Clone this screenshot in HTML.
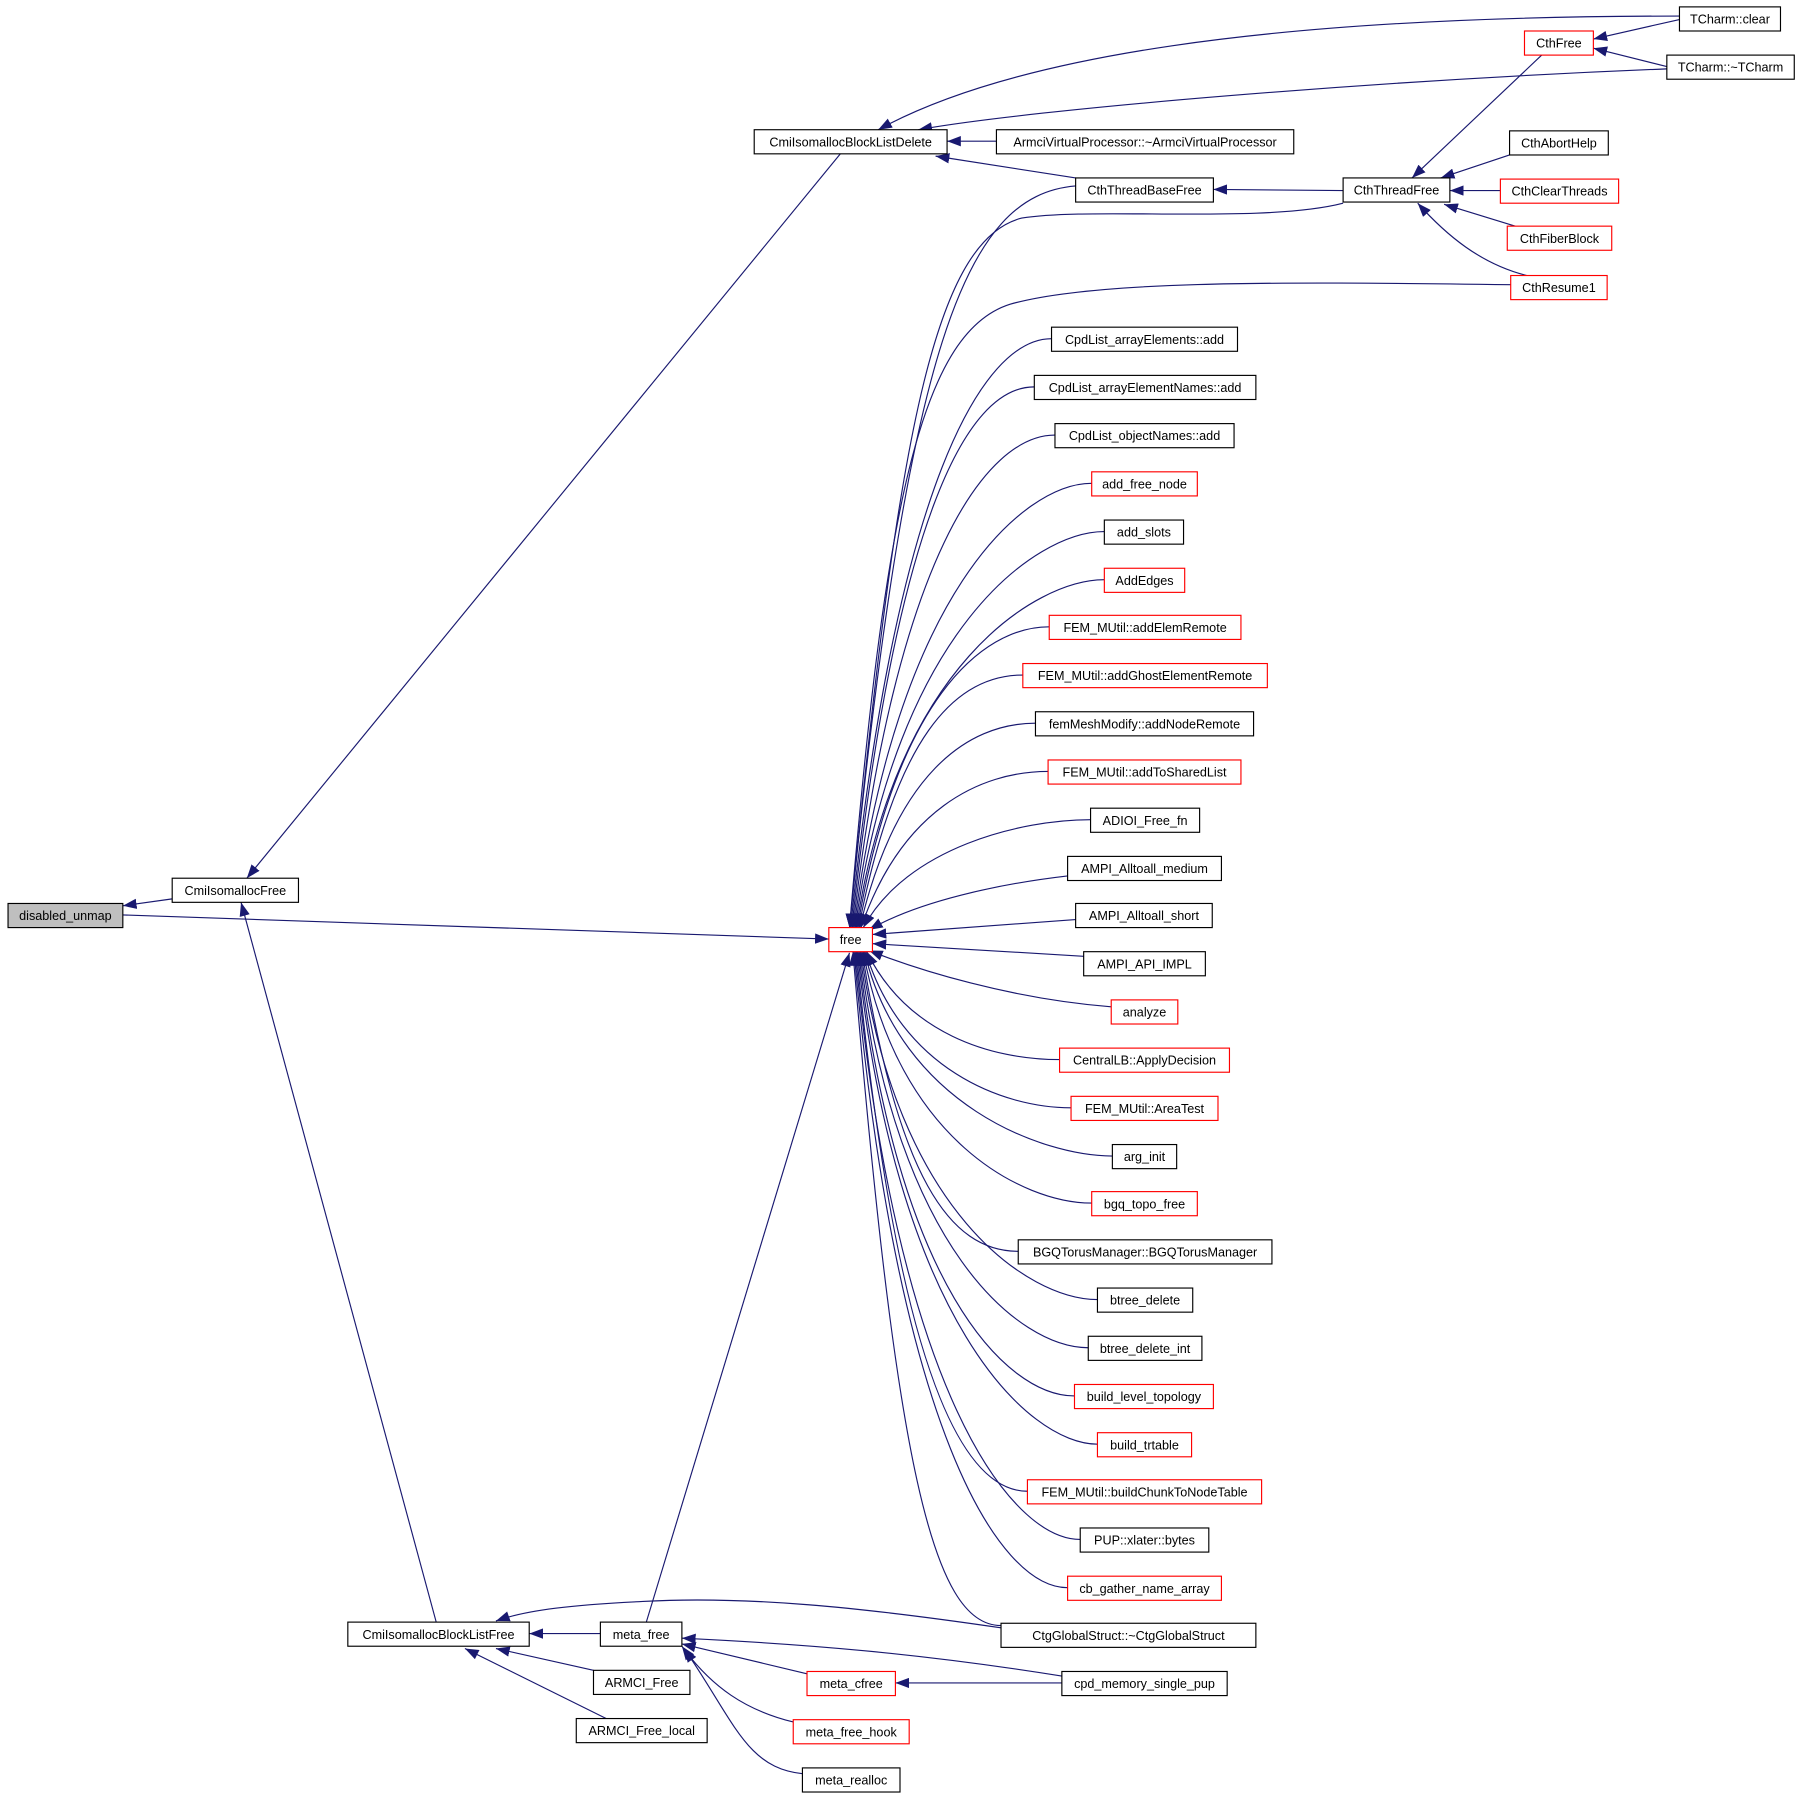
<!DOCTYPE html>
<html><head><meta charset="utf-8"><style>
html,body{margin:0;padding:0;background:#fff;}
svg{display:block;}
text{font-family:"Liberation Sans",sans-serif;font-size:11px;text-anchor:middle;fill:#000;}
.e{fill:none;stroke:#191970;stroke-width:1;marker-end:url(#a);}
.n{fill:#fff;stroke:#000;stroke-width:1;}
.r{fill:#fff;stroke:#f00;stroke-width:1;}
</style></head><body>
<svg width="1800" height="1795" viewBox="0 0 1568 1563.6" preserveAspectRatio="none" xmlns="http://www.w3.org/2000/svg">
<defs><marker id="a" markerUnits="userSpaceOnUse" markerWidth="12" markerHeight="9" refX="12" refY="4.5" orient="auto"><path d="M0,0 L12,4.5 L0,9 z" fill="#191970"/></marker></defs>
<g>
<path class="e" d="M150,783 L107,789"/>
<path class="e" d="M107,797 L722,818"/>
<path class="e" d="M732,134 L215,765"/>
<path class="e" d="M380,1413 L210,786"/>
<path class="e" d="M1463,14 C1100,14 880,50 765,113"/>
<path class="e" d="M1452,60 C1200,70 900,95 800,113"/>
<path class="e" d="M868,123 L825,123"/>
<path class="e" d="M937,155 L815,136"/>
<path class="e" d="M1170,166 L1057,165"/>
<path class="e" d="M1463,17 L1388,34"/>
<path class="e" d="M1452,58 L1388,42"/>
<path class="e" d="M1343,48 L1230,155"/>
<path class="e" d="M1315,135 L1255,155"/>
<path class="e" d="M1307,166 L1263,166"/>
<path class="e" d="M1320,197 L1258,178"/>
<path class="e" d="M1330,240 C1290,230 1260,205 1235,177"/>
<path class="e" d="M937,162 C840,170 790,300 740,808"/>
<path class="e" d="M1170,177 C1100,195 950,180 890,190 C810,210 780,400 740,808"/>
<path class="e" d="M1316,248 C1100,245 950,245 880,265 C800,290 770,450 740,808"/>
<path class="e" d="M916,295 C856,295 780,423 741,808"/>
<path class="e" d="M901,337 C841,337 780,455 742,808"/>
<path class="e" d="M919,379 C859,379 780,486 743,808"/>
<path class="e" d="M951,421 C891,421 780,518 744,808"/>
<path class="e" d="M962,463 C902,463 780,549 745,808"/>
<path class="e" d="M962,505 C902,505 780,581 746,808"/>
<path class="e" d="M914,546 C854,546 780,612 747,808"/>
<path class="e" d="M891,588 C831,588 780,643 748,808"/>
<path class="e" d="M902,630 C842,630 780,675 749,808"/>
<path class="e" d="M913,672 C853,672 785,706 750,808"/>
<path class="e" d="M950,714 C890,714 790,738 752,808"/>
<path class="e" d="M930,763 C870,770 800,785 757,810"/>
<path class="e" d="M937,801 L760,814"/>
<path class="e" d="M944,833 L760,822"/>
<path class="e" d="M968,877 C880,870 800,845 757,828"/>
<path class="e" d="M923,923 C863,923 790,900 755,829"/>
<path class="e" d="M933,965 C873,965 785,931 754,829"/>
<path class="e" d="M969,1007 C909,1007 785,963 753,829"/>
<path class="e" d="M951,1048 C891,1048 782,993 752,829"/>
<path class="e" d="M887,1090 C827,1090 782,1025 751,829"/>
<path class="e" d="M956,1132 C896,1132 780,1056 750,829"/>
<path class="e" d="M948,1174 C888,1174 780,1088 749,829"/>
<path class="e" d="M936,1216 C876,1216 780,1119 748,829"/>
<path class="e" d="M956,1258 C896,1258 780,1151 747,829"/>
<path class="e" d="M895,1299 C835,1299 780,1181 746,829"/>
<path class="e" d="M941,1341 C881,1341 780,1213 745,829"/>
<path class="e" d="M930,1383 C870,1383 780,1245 744,829"/>
<path class="e" d="M872,1416 C812,1416 780,1275 743,829"/>
<path class="e" d="M563,1413 L740,830"/>
<path class="e" d="M523,1423 L461,1423"/>
<path class="e" d="M517,1455 L432,1436"/>
<path class="e" d="M528,1497 L405,1436"/>
<path class="e" d="M872,1418 C750,1400 650,1390 560,1395 C500,1398 460,1402 432,1412"/>
<path class="e" d="M925,1460 C800,1440 700,1432 594,1427"/>
<path class="e" d="M703,1458 L594,1432"/>
<path class="e" d="M691,1500 C650,1490 620,1470 594,1434"/>
<path class="e" d="M699,1545 C650,1540 640,1500 596,1436"/>
<path class="e" d="M925,1466 L780,1466"/>
</g>
<g>
<rect x="7" y="787" width="100" height="21" fill="#bfbfbf" stroke="#000"/><text x="57" y="801.5">disabled_unmap</text>
<rect class="n" x="150" y="765" width="110" height="21"/><text x="205" y="779.5">CmiIsomallocFree</text>
<rect class="n" x="657" y="113" width="168" height="21"/><text x="741" y="127.5">CmiIsomallocBlockListDelete</text>
<rect class="n" x="868" y="113" width="259" height="21"/><text x="997.5" y="127.5">ArmciVirtualProcessor::~ArmciVirtualProcessor</text>
<rect class="n" x="937" y="155" width="120" height="21"/><text x="997" y="169.5">CthThreadBaseFree</text>
<rect class="n" x="1170" y="155" width="93" height="21"/><text x="1216.5" y="169.5">CthThreadFree</text>
<rect class="r" x="1328" y="27" width="60" height="21"/><text x="1358" y="41.5">CthFree</text>
<rect class="n" x="1463" y="6" width="88" height="21"/><text x="1507" y="20.5">TCharm::clear</text>
<rect class="n" x="1452" y="48" width="111" height="21"/><text x="1507.5" y="62.5">TCharm::~TCharm</text>
<rect class="n" x="1315" y="114" width="86" height="21"/><text x="1358" y="128.5">CthAbortHelp</text>
<rect class="r" x="1307" y="156" width="103" height="21"/><text x="1358.5" y="170.5">CthClearThreads</text>
<rect class="r" x="1313" y="197" width="91" height="21"/><text x="1358.5" y="211.5">CthFiberBlock</text>
<rect class="r" x="1316" y="240" width="84" height="21"/><text x="1358" y="254.5">CthResume1</text>
<rect class="r" x="722" y="808" width="38" height="21"/><text x="741" y="822.5">free</text>
<rect class="n" x="916" y="285" width="162" height="21"/><text x="997" y="299.5">CpdList_arrayElements::add</text>
<rect class="n" x="901" y="327" width="193" height="21"/><text x="997.5" y="341.5">CpdList_arrayElementNames::add</text>
<rect class="n" x="919" y="369" width="156" height="21"/><text x="997" y="383.5">CpdList_objectNames::add</text>
<rect class="r" x="951" y="411" width="92" height="21"/><text x="997" y="425.5">add_free_node</text>
<rect class="n" x="962" y="453" width="69" height="21"/><text x="996.5" y="467.5">add_slots</text>
<rect class="r" x="962" y="495" width="70" height="21"/><text x="997" y="509.5">AddEdges</text>
<rect class="r" x="914" y="536" width="167" height="21"/><text x="997.5" y="550.5">FEM_MUtil::addElemRemote</text>
<rect class="r" x="891" y="578" width="213" height="21"/><text x="997.5" y="592.5">FEM_MUtil::addGhostElementRemote</text>
<rect class="n" x="902" y="620" width="190" height="21"/><text x="997" y="634.5">femMeshModify::addNodeRemote</text>
<rect class="r" x="913" y="662" width="168" height="21"/><text x="997" y="676.5">FEM_MUtil::addToSharedList</text>
<rect class="n" x="950" y="704" width="95" height="21"/><text x="997.5" y="718.5">ADIOI_Free_fn</text>
<rect class="n" x="930" y="746" width="134" height="21"/><text x="997" y="760.5">AMPI_Alltoall_medium</text>
<rect class="n" x="937" y="787" width="119" height="21"/><text x="996.5" y="801.5">AMPI_Alltoall_short</text>
<rect class="n" x="944" y="829" width="106" height="21"/><text x="997" y="843.5">AMPI_API_IMPL</text>
<rect class="r" x="968" y="871" width="58" height="21"/><text x="997" y="885.5">analyze</text>
<rect class="r" x="923" y="913" width="148" height="21"/><text x="997" y="927.5">CentralLB::ApplyDecision</text>
<rect class="r" x="933" y="955" width="128" height="21"/><text x="997" y="969.5">FEM_MUtil::AreaTest</text>
<rect class="n" x="969" y="997" width="56" height="21"/><text x="997" y="1011.5">arg_init</text>
<rect class="r" x="951" y="1038" width="92" height="21"/><text x="997" y="1052.5">bgq_topo_free</text>
<rect class="n" x="887" y="1080" width="221" height="21"/><text x="997.5" y="1094.5">BGQTorusManager::BGQTorusManager</text>
<rect class="n" x="956" y="1122" width="83" height="21"/><text x="997.5" y="1136.5">btree_delete</text>
<rect class="n" x="948" y="1164" width="99" height="21"/><text x="997.5" y="1178.5">btree_delete_int</text>
<rect class="r" x="936" y="1206" width="121" height="21"/><text x="996.5" y="1220.5">build_level_topology</text>
<rect class="r" x="956" y="1248" width="82" height="21"/><text x="997" y="1262.5">build_trtable</text>
<rect class="r" x="895" y="1289" width="204" height="21"/><text x="997" y="1303.5">FEM_MUtil::buildChunkToNodeTable</text>
<rect class="n" x="941" y="1331" width="112" height="21"/><text x="997" y="1345.5">PUP::xlater::bytes</text>
<rect class="r" x="930" y="1373" width="134" height="21"/><text x="997" y="1387.5">cb_gather_name_array</text>
<rect class="n" x="872" y="1414" width="222" height="21"/><text x="983" y="1428.5">CtgGlobalStruct::~CtgGlobalStruct</text>
<rect class="n" x="925" y="1456" width="144" height="21"/><text x="997" y="1470.5">cpd_memory_single_pup</text>
<rect class="n" x="303" y="1413" width="158" height="21"/><text x="382" y="1427.5">CmiIsomallocBlockListFree</text>
<rect class="n" x="523" y="1413" width="71" height="21"/><text x="558.5" y="1427.5">meta_free</text>
<rect class="n" x="517" y="1455" width="84" height="21"/><text x="559" y="1469.5">ARMCI_Free</text>
<rect class="n" x="502" y="1497" width="114" height="21"/><text x="559" y="1511.5">ARMCI_Free_local</text>
<rect class="r" x="703" y="1456" width="77" height="21"/><text x="741.5" y="1470.5">meta_cfree</text>
<rect class="r" x="691" y="1498" width="101" height="21"/><text x="741.5" y="1512.5">meta_free_hook</text>
<rect class="n" x="699" y="1540" width="85" height="21"/><text x="741.5" y="1554.5">meta_realloc</text>
</g>
</svg>
</body></html>
